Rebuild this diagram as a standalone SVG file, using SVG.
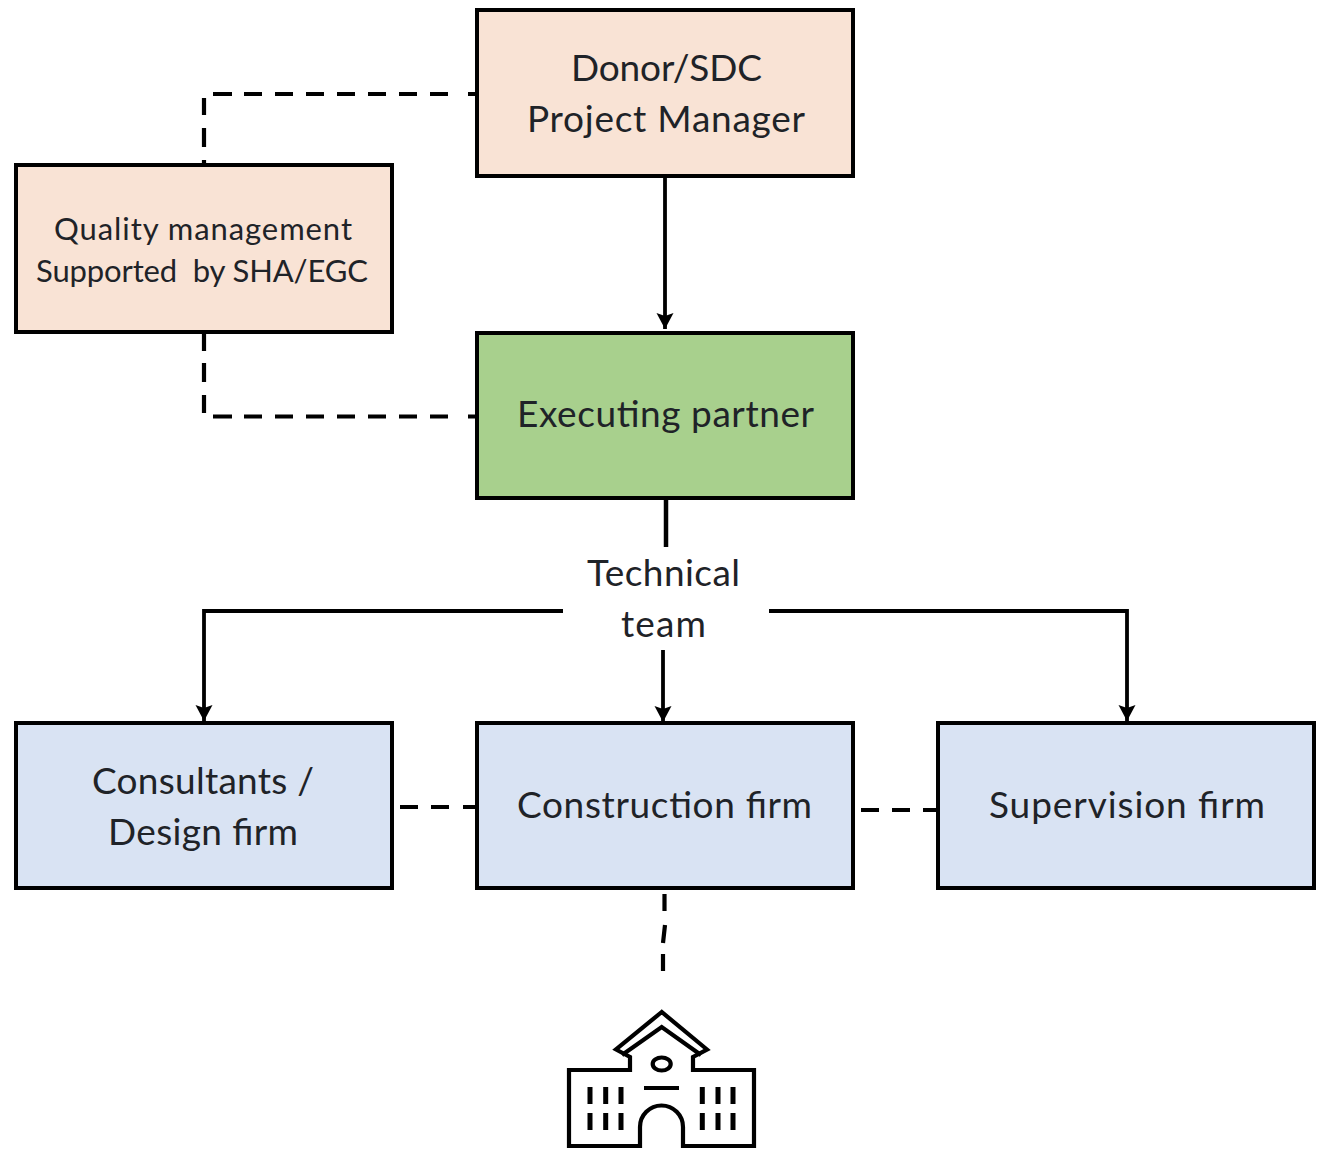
<svg xmlns="http://www.w3.org/2000/svg" width="1329" height="1153" viewBox="0 0 1329 1153">
<defs>
<style>
.box{stroke:#000;stroke-width:4}
.peach{fill:#f9e3d5}.green{fill:#a8d08d}.blue{fill:#d9e3f3}
text{font-family:"Lato","Open Sans","Liberation Sans",sans-serif;fill:#1f2328;white-space:pre}
.l{font-size:37px}.s{font-size:31px}
.line{fill:none;stroke:#000;stroke-width:3.8}
.dash{fill:none;stroke:#000;stroke-width:4.200}
.icon{fill:none;stroke:#000;stroke-width:4.200}
.win{stroke-width:5}
</style>
<marker id="arrow" markerUnits="userSpaceOnUse" markerWidth="18" markerHeight="18" refX="16" refY="9" orient="auto">
<path d="M0 0.500L16 9L0 17.500L3 9Z" fill="#000"/>
</marker>
</defs>
<rect width="1329" height="1153" fill="#fff"/>
<g id="connectors">
<path class="line" d="M665 177V329" marker-end="url(#arrow)"/>
<path class="line" d="M666 498V547" style="stroke-width:4.5"/>
<path class="line" d="M563 611H204V721" marker-end="url(#arrow)"/>
<path class="line" d="M769 611H1127V721" marker-end="url(#arrow)"/>
<path class="line" d="M663 650V722" marker-end="url(#arrow)"/>
<path class="dash" d="M476 94H468M448 94H430M417 94H399M386 94H368M355 94H337M324 94H306M293 94H275M262 94H244M232 94H213"/>
<path class="dash" d="M204 98V115M204 128V147M204 160V165"/>
<path class="dash" d="M204 333V351M204 363V382M204 395V413"/>
<path class="dash" d="M476 416.500H468M448 416.500H430M417 416.500H399M386 416.500H368M355 416.500H337M324 416.500H306M293 416.500H275M262 416.500H244M232 416.500H213"/>
<path class="dash" d="M400 807H418M431 807H449M463 807H477"/>
<path class="dash" d="M861 810H879M892 810H910M923 810H938"/>
<path class="dash" d="M664.500 894V911M665 925L663 943M663 954V971"/>
</g>
<g id="donor">
<rect class="box peach" x="477" y="10" width="376" height="166"/>
<text class="l" x="571" y="81" textLength="191">Donor/SDC</text>
<text class="l" x="527" y="132" textLength="278">Project Manager</text>
</g>
<g id="quality">
<rect class="box peach" x="16" y="165" width="376" height="167"/>
<text class="s" x="54" y="240" textLength="298">Quality management</text>
<text class="s" x="36" y="282" textLength="332">Supported  by SHA/EGC</text>
</g>
<g id="executing">
<rect class="box green" x="477" y="333" width="376" height="165"/>
<text class="l" x="517" y="427" textLength="297">Executing partner</text>
</g>
<g id="technical-team">
<text class="l" x="587" y="586" textLength="153">Technical</text>
<text class="l" x="621" y="637" textLength="85">team</text>
</g>
<g id="consultants">
<rect class="box blue" x="16" y="723" width="376" height="165"/>
<text class="l" x="92" y="794" textLength="222">Consultants /</text>
<text class="l" x="108" y="845" textLength="190">Design firm</text>
</g>
<g id="construction">
<rect class="box blue" x="477" y="723" width="376" height="165"/>
<text class="l" x="517" y="818" textLength="295">Construction firm</text>
</g>
<g id="supervision">
<rect class="box blue" x="938" y="723" width="376" height="165"/>
<text class="l" x="989" y="818" textLength="276">Supervision firm</text>
</g>
<g id="school" class="icon">
<path d="M661.700 1012L616 1049.500L630 1057V1070H569V1146H640V1127A21.500 21.500 0 0 1 683 1127V1146H754V1070H693V1057L707 1049.500Z" stroke-linejoin="miter"/>
<path d="M622 1055L661.700 1027L701 1055"/>
<ellipse cx="661.700" cy="1064" rx="9" ry="6.500"/>
<path d="M644 1088H679"/>
<path class="win" d="M590 1087V1104M605.700 1087V1104M621 1087V1104M702.300 1087V1104M718 1087V1104M733 1087V1104M590 1113V1130M605.700 1113V1130M621 1113V1130M702.300 1113V1130M718 1113V1130M733 1113V1130"/>
</g>
</svg>
